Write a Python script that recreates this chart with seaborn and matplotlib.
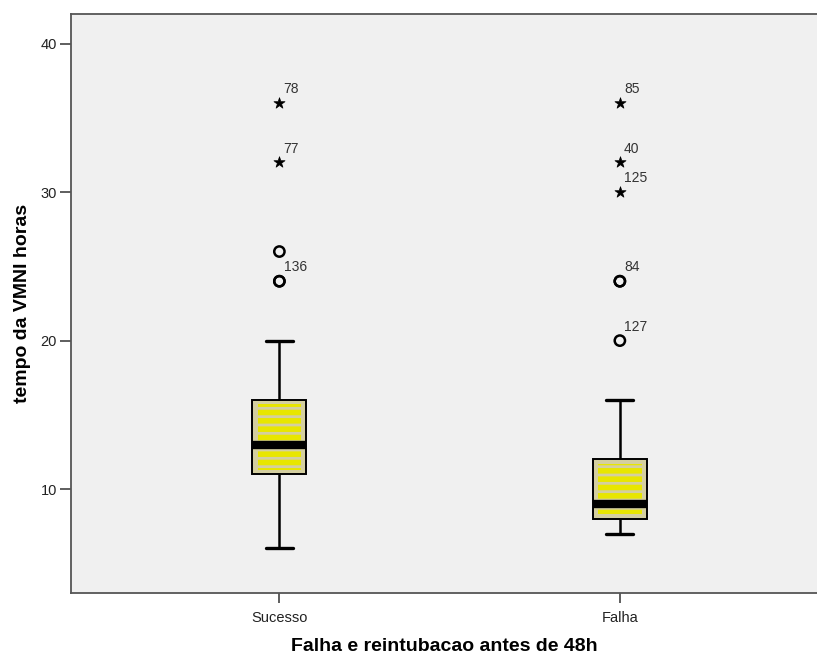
import numpy as np
import pandas as pd
import seaborn as sns
import matplotlib.pyplot as plt
from matplotlib.patches import Rectangle

# ---- data ----
groups = ["Sucesso", "Falha"]
sucesso_horas = [6, 7, 8, 9, 9, 10, 10, 11, 11, 11, 12, 12, 12, 12, 13, 13, 13,
                 13, 14, 14, 14, 15, 15, 16, 16, 16, 18, 20, 24, 24, 26, 32, 36]
falha_horas = [7, 7, 8, 8, 8, 8, 8, 8, 8, 9, 9, 9, 9, 9, 9, 9, 9,
               10, 10, 10, 11, 11, 12, 12, 12, 14, 16, 20, 24, 24, 30, 32, 36]
outlier_labels = {
    "Sucesso": {36: "78", 32: "77", 24: "136"},
    "Falha": {36: "85", 32: "40", 30: "125", 24: "84", 20: "127"},
}
y_ticks = [10, 20, 30, 40]
x_label = "Falha e reintubacao antes de 48h"
y_label = "tempo da VMNI horas"

df = pd.DataFrame({
    "grupo": ["Sucesso"] * len(sucesso_horas) + ["Falha"] * len(falha_horas),
    "horas": sucesso_horas + falha_horas,
})

sns.set_style("white")
plt.rcParams["font.family"] = ["Liberation Sans", "DejaVu Sans"]
plt.rcParams["hatch.linewidth"] = 4.0

W, H = 817, 656
fig = plt.figure(figsize=(W / 100, H / 100), dpi=100)
ax = fig.add_axes([71 / W, 63 / H, 1 - 71 / W, (593 - 14) / H])
ax.set_facecolor("#f0f0f0")

sns.boxplot(data=df, x="grupo", y="horas", order=groups, width=0.159,
            whis=1.5, showfliers=False, color="#d4cfa0", saturation=1,
            linecolor="black", linewidth=1.4,
            medianprops=dict(color="black", linewidth=6, solid_capstyle="butt"),
            whiskerprops=dict(linewidth=1.8), capprops=dict(linewidth=2.4),
            ax=ax)

# yellow striped fill inside each box (derived from the box patches)
for p in list(ax.patches):
    ext = p.get_path().get_extents()
    dx = ext.width * 0.10
    dy = 0.3
    r = Rectangle((ext.x0 + dx, ext.y0 + dy), ext.width - 2 * dx, ext.height - 2 * dy,
                  facecolor="none", edgecolor="#e8e600", hatch="--", linewidth=0,
                  zorder=p.get_zorder() + 0.05)
    ax.add_patch(r)

# outliers: circles beyond 1.5 IQR, stars beyond 3 IQR
for i, g in enumerate(groups):
    vals = np.array(df.loc[df["grupo"] == g, "horas"], dtype=float)
    q1, q3 = np.percentile(vals, [25, 75])
    iqr = q3 - q1
    mild = vals[((vals > q3 + 1.5 * iqr) & (vals <= q3 + 3 * iqr)) |
                ((vals < q1 - 1.5 * iqr) & (vals >= q1 - 3 * iqr))]
    extreme = vals[(vals > q3 + 3 * iqr) | (vals < q1 - 3 * iqr)]
    ax.scatter(np.full(len(mild), i), mild, s=55, marker="o", facecolors="none",
               edgecolors="black", linewidths=1.8, zorder=3)
    ax.scatter(np.full(len(extreme), i), extreme, s=70, marker="*", color="black",
               edgecolors="black", linewidths=0.5, zorder=3)
    for v, lab in outlier_labels[g].items():
        ax.annotate(lab, (i, v), xytext=(3, 5), textcoords="offset points",
                    ha="left", va="bottom", fontsize=10, color="#333333")

ax.set_xlim(-0.612, 1.579)
ax.set_ylim(3.0, 42.0)
ax.set_yticks(y_ticks)

ax.spines["right"].set_visible(False)
for side in ["left", "bottom", "top"]:
    ax.spines[side].set_visible(True)
    ax.spines[side].set_color("#555555")
    ax.spines[side].set_linewidth(1.3)

ax.tick_params(axis="y", direction="out", length=8, width=1.1, color="#333333",
               labelsize=10.5, pad=2, left=True, labelcolor="#222222")
ax.tick_params(axis="x", direction="out", length=7, width=1.1, color="#333333",
               labelsize=10.5, pad=6, bottom=True, labelcolor="#222222")

ax.set_xlabel(x_label, fontsize=14, fontweight="bold", labelpad=9, color="black")
ax.set_ylabel(y_label, fontsize=14, fontweight="bold", labelpad=7, color="black")

fig.savefig("out.png", dpi=100)
